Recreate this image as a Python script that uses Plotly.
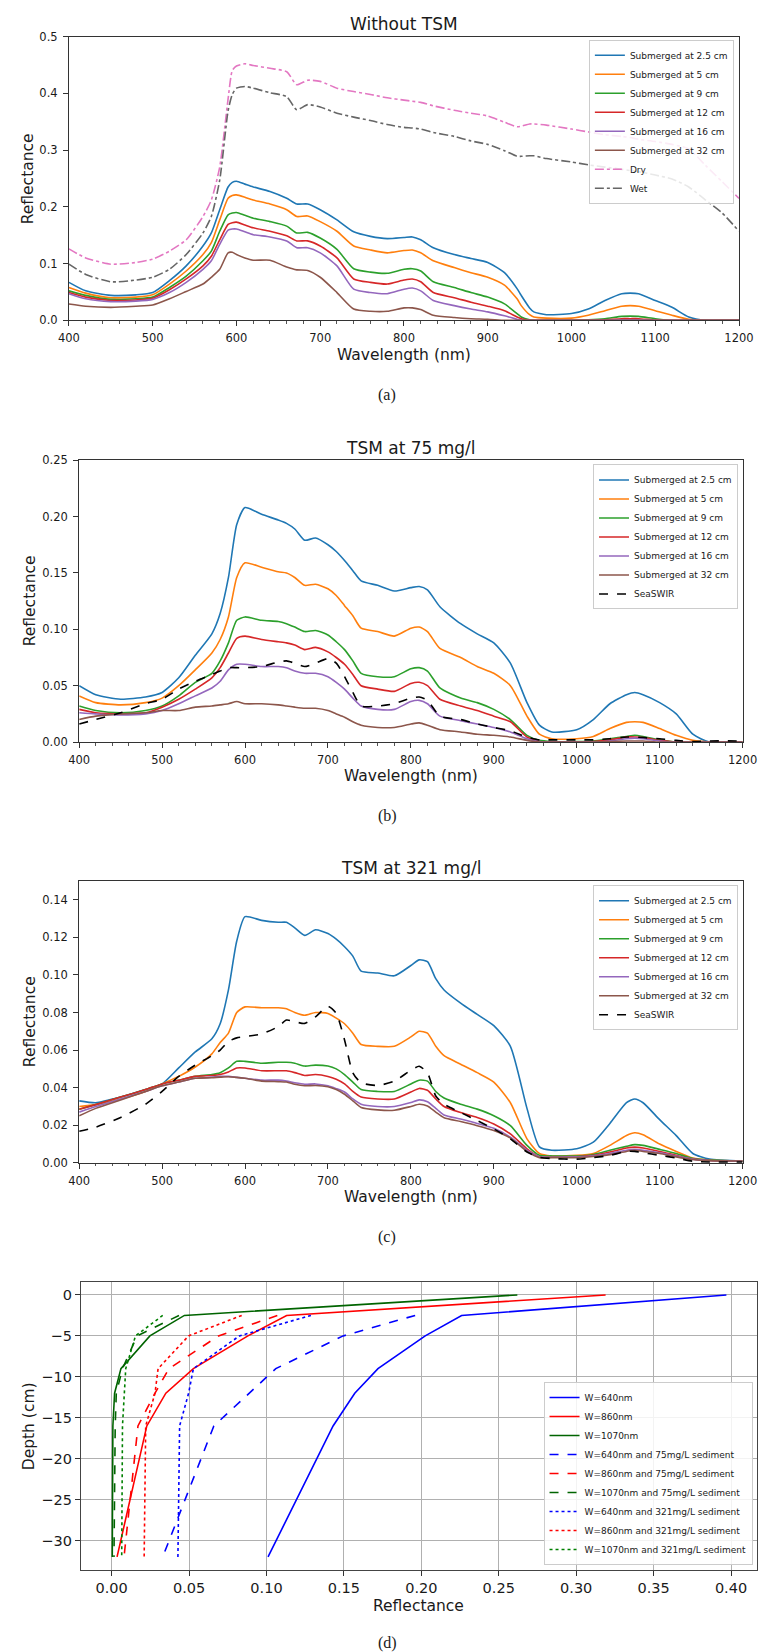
import plotly.graph_objects as go

# ---------------- DATA ----------------
LABELS = ["Submerged at 2.5 cm", "Submerged at 5 cm", "Submerged at 9 cm",
          "Submerged at 12 cm", "Submerged at 16 cm", "Submerged at 32 cm"]

# Panel (a): Without TSM
WL_A = [400, 420, 450, 480, 500, 520, 540, 560, 570, 580, 590, 595, 600, 610, 620, 640, 660, 672, 685, 700,
        720, 740, 760, 780, 800, 810, 820, 835, 860, 880, 900, 920, 935, 940, 950, 955, 970, 1000, 1020, 1040,
        1060, 1070, 1080, 1100, 1120, 1140, 1160, 1180, 1200]
A_DRY = [.126, .110, .099, .102, .108, .122, .142, .183, .212, .270, .390, .440, .448, .452, .449, .444, .438, .415, .423, .421,
         .409, .403, .398, .392, .388, .386, .384, .378, .370, .365, .360, .349, .341, .342, .346, .346, .344, .337, .332, .327,
         .324, .322, .319, .315, .310, .302, .273, .244, .215]
A_WET = [.099, .081, .068, .071, .076, .090, .116, .154, .183, .247, .369, .398, .409, .412, .409, .401, .394, .371, .380, .376,
         .365, .358, .352, .345, .340, .339, .337, .331, .324, .316, .310, .299, .289, .289, .290, .290, .285, .279, .274, .270,
         .266, .264, .262, .256, .249, .235, .212, .189, .157]
A_25 = [.067, .052, .044, .045, .049, .070, .096, .131, .154, .195, .235, .243, .245, .240, .235, .227, .215, .205, .205, .195,
        .177, .156, .148, .144, .146, .147, .142, .128, .116, .109, .102, .084, .056, .044, .022, .015, .010, .012, .020, .035,
        .047, .048, .047, .035, .023, .006, 0, 0, 0]
A_5 = [.058, .048, .040, .041, .045, .064, .087, .116, .137, .177, .215, .220, .221, .217, .212, .205, .195, .183, .184, .174,
       .157, .131, .124, .119, .123, .124, .119, .105, .093, .084, .076, .062, .038, .026, .010, .006, .004, .004, .009, .017,
       .025, .026, .025, .017, .009, .002, 0, 0, 0]
A_9 = [.052, .044, .037, .038, .041, .058, .078, .105, .122, .157, .186, .189, .190, .185, .180, .174, .166, .154, .155, .145,
       .125, .091, .085, .083, .090, .091, .087, .068, .058, .049, .041, .029, .012, .006, .001, 0, 0, 0, .001, .003,
       .007, .0075, .007, .003, 0, 0, 0, 0, 0]
A_12 = [.049, .041, .035, .036, .039, .054, .073, .096, .113, .142, .169, .172, .173, .168, .163, .157, .149, .140, .140, .131,
        .110, .073, .067, .064, .071, .073, .068, .049, .040, .032, .025, .017, .006, .003, 0, 0, 0, 0, 0, .001,
        .003, .003, .003, .0005, 0, 0, 0, 0, 0]
A_16 = [.047, .038, .033, .034, .037, .049, .067, .090, .105, .134, .159, .161, .161, .156, .151, .147, .140, .128, .128, .119,
        .096, .055, .049, .047, .055, .057, .052, .035, .026, .020, .015, .008, .002, 0, 0, 0, 0, 0, 0, 0,
        .001, .001, .001, 0, 0, 0, 0, 0, 0]
A_32 = [.029, .025, .023, .025, .027, .038, .051, .064, .076, .090, .119, .120, .116, .110, .106, .106, .094, .089, .088, .076,
        .049, .020, .016, .016, .022, .022, .019, .009, .005, .003, .002, 0, 0, 0, 0, 0, 0, 0, 0, 0,
        0, 0, 0, 0, 0, 0, 0, 0, 0]

# Panel (b): TSM at 75 mg/l
WL_B = [400, 420, 450, 480, 500, 520, 540, 560, 570, 580, 590, 600, 620, 640, 650, 660, 672, 685, 700, 710,
        720, 730, 740, 760, 780, 800, 810, 820, 835, 860, 880, 900, 920, 940, 955, 970, 1000, 1020, 1040, 1060,
        1070, 1080, 1100, 1120, 1140, 1160, 1200]
B_25 = [.050, .042, .038, .040, .044, .057, .077, .096, .114, .146, .193, .208, .202, .197, .194, .189, .179, .181, .175, .169,
        .161, .152, .143, .139, .134, .137, .138, .135, .120, .105, .096, .088, .070, .035, .015, .009, .011, .020, .034, .042,
        .044, .042, .035, .025, .007, 0, 0]
B_5 = [.041, .035, .033, .035, .039, .050, .064, .079, .091, .111, .146, .159, .155, .151, .150, .146, .139, .140, .136, .130,
       .121, .112, .101, .098, .094, .101, .102, .098, .083, .075, .067, .061, .050, .023, .007, .003, .003, .005, .012, .0175,
       .018, .0175, .012, .006, .0015, 0, 0]
B_9 = [.032, .028, .026, .028, .032, .041, .053, .061, .072, .088, .108, .111, .108, .107, .105, .102, .098, .099, .095, .089,
       .082, .072, .061, .058, .058, .065, .066, .063, .048, .039, .035, .029, .020, .006, .0015, .0005, .0005, .001, .003, .005,
       .006, .005, .002, 0, 0, 0, 0]
B_12 = [.029, .026, .025, .026, .031, .038, .047, .057, .066, .079, .092, .094, .091, .089, .088, .086, .082, .084, .080, .075,
        .069, .060, .050, .047, .045, .052, .053, .050, .038, .032, .028, .023, .018, .0045, .0005, 0, 0, .0005, .002, .0045,
        .0045, .004, .0015, 0, 0, 0, 0]
B_16 = [.026, .025, .024, .025, .028, .034, .041, .048, .054, .064, .069, .069, .067, .067, .066, .063, .061, .061, .058, .053,
        .047, .039, .032, .029, .029, .036, .037, .034, .023, .019, .016, .013, .009, .003, .0005, 0, 0, 0, .001, .003,
        .0035, .003, .001, 0, 0, 0, 0]
B_32 = [.020, .023, .025, .026, .028, .028, .031, .032, .033, .034, .036, .034, .034, .033, .032, .031, .030, .030, .028, .025,
        .022, .018, .015, .013, .013, .016, .017, .015, .011, .009, .007, .006, .0045, .0015, 0, 0, 0, 0, .0005, .001,
        .001, .001, 0, 0, 0, 0, 0]
B_SEA = [.016, .020, .026, .034, .038, .047, .054, .060, .063, .066, .066, .066, .067, .071, .072, .070, .067, .070, .074, .070,
         .058, .044, .032, .032, .034, .039, .040, .037, .023, .020, .016, .013, .010, .0045, .002, .002, .002, .002, .003, .0045,
         .0045, .004, .003, .0015, .0005, .001, .001]

# Panel (c): TSM at 321 mg/l
WL_C = [400, 420, 450, 480, 500, 520, 540, 560, 570, 580, 590, 600, 620, 640, 650, 660, 672, 685, 700, 710,
        720, 730, 740, 760, 780, 800, 810, 820, 830, 840, 860, 880, 900, 920, 940, 955, 970, 1000, 1020, 1040,
        1060, 1070, 1080, 1100, 1120, 1140, 1160, 1200]
C_25 = [.033, .032, .035, .039, .042, .0505, .059, .066, .074, .092, .118, .131, .129, .128, .128, .125, .121, .124, .122, .119,
        .115, .110, .102, .101, .0995, .105, .108, .107, .098, .092, .085, .079, .073, .062, .029, .0085, .0067, .0075, .011, .021,
        .032, .034, .032, .023, .0145, .005, .002, .001]
C_5 = [.030, .031, .034, .038, .042, .046, .051, .058, .064, .069, .080, .083, .0825, .0825, .082, .080, .0785, .080, .0795, .077,
       .074, .069, .063, .062, .062, .067, .070, .069, .062, .057, .0525, .048, .043, .032, .0128, .005, .0037, .004, .005, .0093,
       .0146, .016, .015, .010, .0061, .0026, .0015, .001]
C_9 = [.0285, .031, .035, .039, .042, .044, .046, .047, .048, .0505, .054, .054, .053, .0535, .0535, .053, .0515, .052, .0515, .050,
       .047, .043, .039, .038, .038, .042, .044, .0435, .038, .0345, .0312, .0286, .0251, .0198, .0093, .004, .0037, .0037, .0045, .0067,
       .0088, .0097, .0093, .0072, .005, .0023, .0015, .001]
C_12 = [.0285, .031, .035, .039, .042, .044, .046, .0465, .047, .0484, .0505, .0505, .049, .049, .049, .048, .0465, .047, .046, .0445,
        .042, .038, .035, .034, .034, .0377, .0396, .0386, .034, .030, .0268, .0242, .0207, .0154, .0075, .0032, .003, .0032, .004, .0058,
        .0079, .0084, .0079, .0061, .004, .002, .0013, .001]
C_16 = [.027, .030, .034, .038, .041, .043, .045, .0456, .046, .046, .0455, .045, .044, .044, .0435, .0426, .0418, .042, .041, .0395,
        .0377, .034, .0312, .030, .030, .0321, .0335, .0325, .029, .0255, .0233, .021, .0184, .0137, .0067, .0032, .003, .0032, .0038, .005,
        .0067, .0072, .0067, .0054, .0037, .002, .0013, .001]
C_32 = [.025, .029, .0335, .038, .041, .043, .045, .0453, .0456, .0458, .0455, .045, .0435, .0432, .043, .0418, .041, .0412, .0405, .039,
        .0365, .033, .0295, .0282, .028, .030, .0312, .0303, .027, .024, .022, .0198, .0172, .0132, .0061, .0028, .0027, .0028, .0034, .0044,
        .0061, .0067, .0061, .005, .0032, .0018, .0012, .001]
C_SEA = [.0168, .019, .0242, .0312, .038, .046, .052, .057, .060, .0646, .0665, .0672, .0686, .0725, .076, .0751, .0742, .0777, .0833, .0795,
         .0654, .0479, .0426, .0412, .0435, .0493, .0514, .0479, .0356, .0312, .0268, .0225, .0181, .0128, .0058, .003, .0023, .002, .0028, .004,
         .0061, .0061, .0054, .004, .0026, .0009, .0005, .0005]

# Panel (d): depth profiles
DEPTH_DRY = [0, -2.5, -5, -9, -12, -16, -32]
DEPTH_SED = [-2.5, -5, -9, -12, -16, -32]
D_640 = [0.397, 0.226, 0.2025, 0.172, 0.157, 0.143, 0.101]
D_860 = [0.319, 0.113, 0.088, 0.0528, 0.035, 0.0227, 0.0035]
D_1070 = [0.262, 0.047, 0.0247, 0.006, 0.0019, 0.0008, 0.0004]
D_640_75 = [0.196, 0.1495, 0.106, 0.089, 0.066, 0.033]
D_860_75 = [0.107, 0.069, 0.037, 0.028, 0.017, 0.008]
D_1070_75 = [0.0435, 0.0164, 0.007, 0.003, 0.0023, 0.0015]
D_640_321 = [0.1287, 0.0825, 0.0528, 0.0497, 0.0439, 0.0428]
D_860_321 = [0.084, 0.0497, 0.030, 0.028, 0.022, 0.021]
D_1070_321 = [0.033, 0.0154, 0.0091, 0.008, 0.007, 0.0065]

# ---------------- STYLE ----------------
W, H = 766, 1652
def fx(x): return x / W
def fy(y): return 1 - y / H

TAB = ["#1f77b4", "#ff7f0e", "#2ca02c", "#d62728", "#9467bd", "#8c564b"]
FONT = "DejaVu Sans"
TXT = "#1a1a1a"
LW = 1.6

fig = go.Figure()

def spec(x, y, name, color, xa, ya, leg, dash="solid"):
    fig.add_trace(go.Scatter(x=x, y=y, mode="lines", name=name, xaxis=xa, yaxis=ya, legend=leg,
                             line=dict(color=color, width=LW, dash=dash, shape="spline", smoothing=0.6),
                             hoverinfo="skip"))

for vals, lab, c in zip([A_25, A_5, A_9, A_12, A_16, A_32], LABELS, TAB):
    spec(WL_A, vals, lab, c, "x", "y", "legend")
spec(WL_A, A_DRY, "Dry", "#e377c2", "x", "y", "legend", "dashdot")
spec(WL_A, A_WET, "Wet", "#666666", "x", "y", "legend", "dashdot")

for vals, lab, c in zip([B_25, B_5, B_9, B_12, B_16, B_32], LABELS, TAB):
    spec(WL_B, vals, lab, c, "x2", "y2", "legend2")
spec(WL_B, B_SEA, "SeaSWIR", "#000000", "x2", "y2", "legend2", "dash")

for vals, lab, c in zip([C_25, C_5, C_9, C_12, C_16, C_32], LABELS, TAB):
    spec(WL_C, vals, lab, c, "x3", "y3", "legend3")
spec(WL_C, C_SEA, "SeaSWIR", "#000000", "x3", "y3", "legend3", "dash")

def prof(x, y, name, color, dash):
    fig.add_trace(go.Scatter(x=x, y=y, mode="lines", name=name, xaxis="x4", yaxis="y4", legend="legend4",
                             line=dict(color=color, width=1.6, dash=dash), hoverinfo="skip"))

prof(D_640, DEPTH_DRY, "W=640nm", "#0000ff", "solid")
prof(D_860, DEPTH_DRY, "W=860nm", "#ff0000", "solid")
prof(D_1070, DEPTH_DRY, "W=1070nm", "#006400", "solid")
prof(D_640_75, DEPTH_SED, "W=640nm and 75mg/L sediment", "#0000ff", "dash")
prof(D_860_75, DEPTH_SED, "W=860nm and 75mg/L sediment", "#ff0000", "dash")
prof(D_1070_75, DEPTH_SED, "W=1070nm and 75mg/L sediment", "#006400", "dash")
prof(D_640_321, DEPTH_SED, "W=640nm and 321mg/L sediment", "#0000ff", "dot")
prof(D_860_321, DEPTH_SED, "W=860nm and 321mg/L sediment", "#ff0000", "dot")
prof(D_1070_321, DEPTH_SED, "W=1070nm and 321mg/L sediment", "#008000", "dot")

def spec_xaxis(dom, anchor):
    return dict(domain=dom, anchor=anchor, range=[400, 1200], dtick=100, tick0=400,
                ticks="outside", ticklen=5, tickwidth=1, tickcolor="#333",
                minor=dict(dtick=20, ticks="outside", ticklen=2.5, tickcolor="#555"),
                showline=True, linecolor="#333", linewidth=1, mirror=True, showgrid=False, zeroline=False,
                tickfont=dict(family=FONT, size=11.5, color=TXT), ticklabelstandoff=2)

def spec_yaxis(dom, anchor, rng, dt, fmt):
    return dict(domain=dom, anchor=anchor, range=rng, dtick=dt, tick0=0, tickformat=fmt,
                ticks="outside", ticklen=5, tickwidth=1, tickcolor="#333",
                showline=True, linecolor="#333", linewidth=1, mirror=True, showgrid=False, zeroline=False,
                tickfont=dict(family=FONT, size=11.5, color=TXT), ticklabelstandoff=3)

def leg(xr, yt, anchor_y="top"):
    return dict(x=fx(xr), y=fy(yt), xanchor="right", yanchor=anchor_y, bgcolor="rgba(255,255,255,0.85)",
                bordercolor="#cccccc", borderwidth=1, font=dict(family=FONT, size=9, color=TXT),
                tracegroupgap=0, itemwidth=30)

fig.update_layout(
    width=W, height=H, margin=dict(l=0, r=0, t=0, b=0),
    paper_bgcolor="white", plot_bgcolor="white", showlegend=True,
    font=dict(family=FONT, color=TXT),
    xaxis=spec_xaxis([fx(51.7), fx(745.3)], "y"),
    yaxis=spec_yaxis([fy(308), fy(21.7)], "x", [0, 0.5], 0.1, ".1f"),
    xaxis2=spec_xaxis([fx(62.3), fx(749)], "y2"),
    yaxis2=spec_yaxis([fy(733.3), fy(449)], "x2", [0, 0.25], 0.05, ".2f"),
    xaxis3=spec_xaxis([fx(62.3), fx(749)], "y3"),
    yaxis3=spec_yaxis([fy(1157.7), fy(873.3)], "x3", [0, 0.15], 0.02, ".2f"),
    xaxis4=dict(domain=[fx(64), fx(764.3)], anchor="y4", range=[-0.0199, 0.417], dtick=0.05, tick0=0,
                tickformat=".2f", ticks="outside", ticklen=5, tickcolor="#333",
                showline=True, linecolor="#444", mirror=True, showgrid=True, gridcolor="#b0b0b0", gridwidth=1,
                zeroline=False, tickfont=dict(family=FONT, size=14.5, color=TXT)),
    yaxis4=dict(domain=[fy(1568.3), fy(1277.7)], anchor="x4", range=[-33.6, 1.6], dtick=5, tick0=0,
                ticks="outside", ticklen=5, tickcolor="#333",
                showline=True, linecolor="#444", mirror=True, showgrid=True, gridcolor="#b0b0b0", gridwidth=1,
                zeroline=False, tickfont=dict(family=FONT, size=14.5, color=TXT)),
    legend=leg(740, 25),
    legend2=leg(744.3, 453.3),
    legend3=leg(744.3, 877.7),
    legend4=leg(759.3, 1563.3, "bottom"),
)

def ann(text, x, y, size, family=FONT, angle=0):
    fig.add_annotation(text=text, x=fx(x), y=fy(y), xref="paper", yref="paper", showarrow=False,
                       xanchor="center", yanchor="middle", textangle=angle,
                       font=dict(family=family, size=size, color=TXT))

# titles
ann("Without TSM", 398.5, 9, 17)
ann("TSM at 75 mg/l", 405.7, 436.7, 17)
ann("TSM at 321 mg/l", 405.7, 860.7, 17)
# axis titles
ann("Wavelength (nm)", 398.5, 342.7, 15.5)
ann("Wavelength (nm)", 405.7, 767.3, 15.5)
ann("Wavelength (nm)", 405.7, 1191.7, 15.5)
ann("Reflectance", 414, 1605, 15.5)
ann("Reflectance", 9, 165, 15.5, angle=-90)
ann("Reflectance", 11.7, 591, 15.5, angle=-90)
ann("Reflectance", 11.7, 1015.5, 15.5, angle=-90)
ann("Depth (cm)", 10.7, 1423, 15.5, angle=-90)
# captions
SERIF = "Liberation Serif"
ann("(a)", 381, 383, 16, SERIF)
ann("(b)", 381, 808, 16, SERIF)
ann("(c)", 381, 1232.7, 16, SERIF)
ann("(d)", 381, 1641.7, 16, SERIF)

fig.write_html("out.html")
